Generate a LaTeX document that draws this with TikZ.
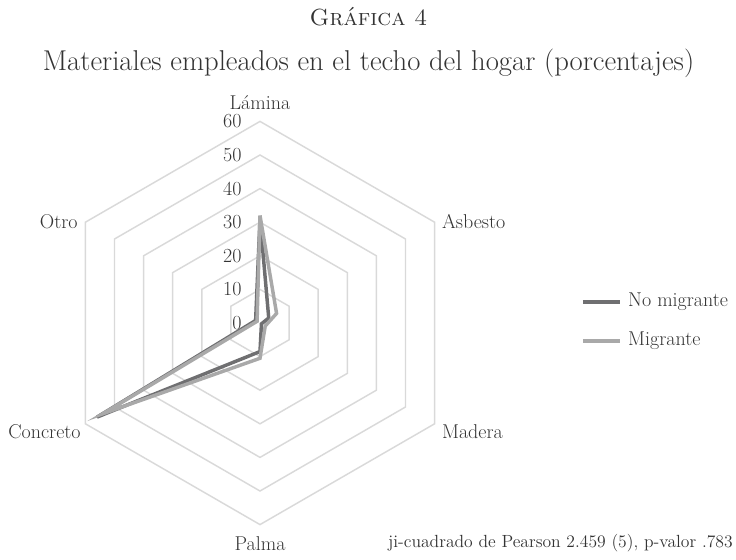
\documentclass[tikz,border=0pt]{standalone}
\definecolor{grisFonce}{HTML}{6F6F71}
\definecolor{grisClair}{HTML}{A9A9A9}
\definecolor{grisGrille}{HTML}{D9D9D9}
\definecolor{texte}{HTML}{333333}
\tikzset{
  grille/.style={draw=grisGrille, line width=1.1pt, line join=miter},
  serieNo/.style={draw=grisFonce, line width=2.6pt, line join=miter},
  serieMig/.style={draw=grisClair, line width=2.6pt, line join=miter},
  etiquette/.style={font=\fontsize{15}{18}\selectfont, text=texte, inner sep=0pt},
  valeur/.style={font=\fontsize{15}{18}\selectfont, text=texte, inner sep=0pt, anchor=east},
}
\begin{document}
\begin{tikzpicture}[x=2.52pt,y=2.52pt]
        \useasboundingbox (-77.38,-70.24) rectangle (141.67,96.13);

        % titre
        \draw (32.3,91.1) node[font=\fontsize{17.5}{20}\selectfont, text=texte] (titre) {\textsc{Gráfica 4}};
        \draw (32.3,77.4) node[font=\fontsize{21.5}{25}\selectfont, text=texte] (sousTitre) {Materiales empleados en el techo del hogar (porcentajes)};

        % dessin de la grille
        \draw[grille] (90:10) -- (30:10) -- (-30:10) -- (-90:10) -- (-150:10) -- (150:10) -- cycle;
        \draw[grille] (90:20) -- (30:20) -- (-30:20) -- (-90:20) -- (-150:20) -- (150:20) -- cycle;
        \draw[grille] (90:30) -- (30:30) -- (-30:30) -- (-90:30) -- (-150:30) -- (150:30) -- cycle;
        \draw[grille] (90:40) -- (30:40) -- (-30:40) -- (-90:40) -- (-150:40) -- (150:40) -- cycle;
        \draw[grille] (90:50) -- (30:50) -- (-30:50) -- (-90:50) -- (-150:50) -- (150:50) -- cycle;
        \draw[grille] (90:60) -- (30:60) -- (-30:60) -- (-90:60) -- (-150:60) -- (150:60) -- cycle;

        % graduations
        \draw (-5.4,0) node[valeur] (val0) {0};
        \draw (-5.4,10) node[valeur] (val10) {10};
        \draw (-5.4,20) node[valeur] (val20) {20};
        \draw (-5.4,30) node[valeur] (val30) {30};
        \draw (-5.4,40) node[valeur] (val40) {40};
        \draw (-5.4,50) node[valeur] (val50) {50};
        \draw (-5.4,60) node[valeur] (val60) {60};

        % noms des axes
        \draw (0,63.4) node[etiquette, anchor=south] (Lamina) {Lámina};
        \draw (54.1,30.1) node[etiquette, anchor=west] (Asbesto) {Asbesto};
        \draw (54.1,-32.4) node[etiquette, anchor=west] (Madera) {Madera};
        \draw (0,-63.4) node[etiquette, anchor=north] (Palma) {Palma};
        \draw (-53.3,-32.4) node[etiquette, anchor=east] (Concreto) {Concreto};
        \draw (-54.2,30.1) node[etiquette, anchor=east] (Otro) {Otro};

        % points des non migrants
        \coordinate (LaminaNo) at (90:31);
        \coordinate (AsbestoNo) at (30:3);
        \coordinate (MaderaNo) at (-30:0.5);
        \coordinate (PalmaNo) at (-90:8.5);
        \coordinate (ConcretoNo) at (-150:56);
        \coordinate (OtroNo) at (150:1.5);

        % points des migrants
        \coordinate (LaminaMig) at (90:32);
        \coordinate (AsbestoMig) at (30:5.7);
        \coordinate (MaderaMig) at (-30:1.8);
        \coordinate (PalmaMig) at (-90:10.5);
        \coordinate (ConcretoMig) at (-150:54);
        \coordinate (OtroMig) at (150:1);

        % dessin des deux series (migrants en dernier)
        \draw[serieNo] (LaminaNo) -- (AsbestoNo) -- (MaderaNo) -- (PalmaNo) -- (ConcretoNo) -- (OtroNo) -- cycle;
        \draw[serieMig] (LaminaMig) -- (AsbestoMig) -- (MaderaMig) -- (PalmaMig) -- (ConcretoMig) -- (OtroMig) -- cycle;

        % legende
        \coordinate (legNoLeft) at (96.1,6.25);
        \coordinate (legNoRight) at (107.1,6.25);
        \coordinate (legMigLeft) at (96.1,-5.36);
        \coordinate (legMigRight) at (107.1,-5.36);
        \draw[serieNo] (legNoLeft) -- (legNoRight);
        \draw[serieMig] (legMigLeft) -- (legMigRight);
        \draw (109.5,6.25) node[etiquette, anchor=west] (legNo) {No migrante};
        \draw (109.5,-5.36) node[etiquette, anchor=west] (legMig) {Migrante};

        % note du test
        \draw (89.4,-65.5) node[font=\fontsize{13.2}{16}\selectfont, text=texte, inner sep=0pt] (note) {ji-cuadrado de Pearson 2.459 (5), p-valor .783};
\end{tikzpicture}
\end{document}
